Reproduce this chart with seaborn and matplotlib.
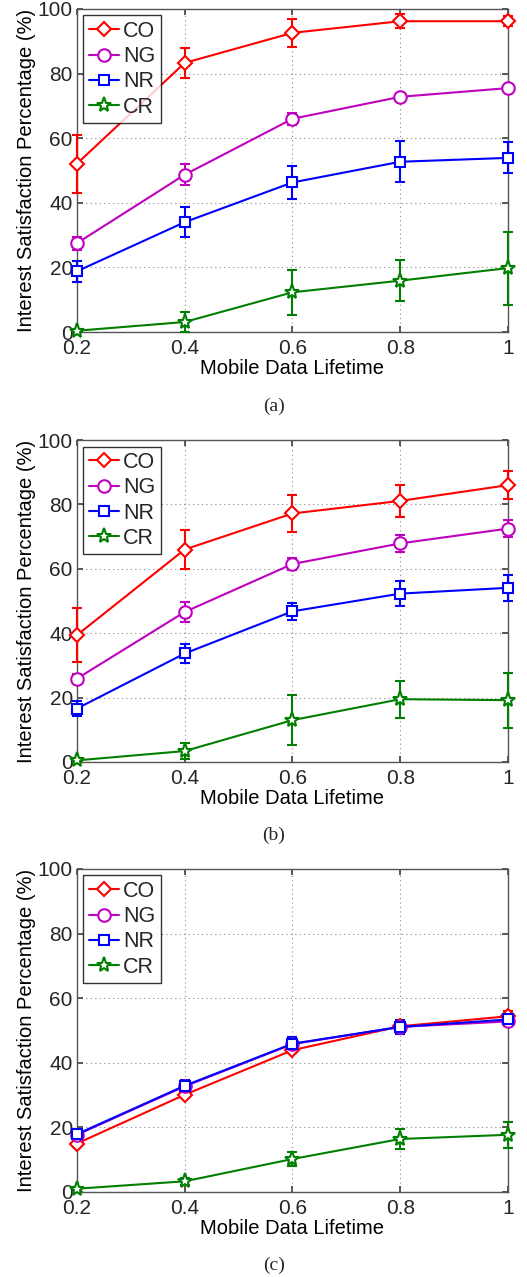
import matplotlib
matplotlib.use("Agg")
import matplotlib.pyplot as plt
import pandas as pd
import seaborn as sns

# lifetime values on the x axis
lifetime = [0.2, 0.4, 0.6, 0.8, 1.0]
methods = ["CO", "NG", "NR", "CR"]

# (a)
a_co = [52.1, 83.3, 92.6, 96.2, 96.2]
a_co_err = [9.0, 4.6, 4.4, 2.2, 1.5]
a_ng = [27.5, 48.7, 66.0, 72.8, 75.5]
a_ng_err = [2.0, 3.3, 1.8, 1.0, 1.0]
a_nr = [18.8, 34.0, 46.3, 52.7, 53.9]
a_nr_err = [3.2, 4.7, 5.0, 6.3, 4.8]
a_cr = [0.4, 3.1, 12.3, 15.9, 19.8]
a_cr_err = [0.5, 3.0, 7.0, 6.3, 11.3]

# (b)
b_co = [39.4, 66.0, 77.2, 81.1, 86.0]
b_co_err = [8.3, 6.1, 5.7, 4.9, 4.4]
b_ng = [25.9, 46.6, 61.5, 67.9, 72.5]
b_ng_err = [1.5, 3.2, 2.0, 2.6, 2.7]
b_nr = [16.6, 33.7, 46.8, 52.3, 54.1]
b_nr_err = [2.2, 3.0, 2.7, 3.9, 4.0]
b_cr = [0.5, 3.4, 13.0, 19.5, 19.2]
b_cr_err = [0.5, 2.4, 7.8, 5.8, 8.5]

# (c)
c_co = [15.0, 30.1, 43.9, 51.3, 54.4]
c_co_err = [1.0, 1.0, 1.0, 1.5, 1.5]
c_ng = [17.7, 32.7, 45.8, 51.1, 52.8]
c_ng_err = [1.2, 1.5, 1.5, 1.8, 1.5]
c_nr = [17.9, 32.9, 45.9, 51.1, 53.4]
c_nr_err = [1.5, 1.8, 2.0, 2.2, 1.8]
c_cr = [1.0, 3.3, 10.2, 16.4, 17.7]
c_cr_err = [0.5, 1.0, 2.3, 3.1, 4.1]

panels = [
    ("(a)", [a_co, a_ng, a_nr, a_cr], [a_co_err, a_ng_err, a_nr_err, a_cr_err]),
    ("(b)", [b_co, b_ng, b_nr, b_cr], [b_co_err, b_ng_err, b_nr_err, b_cr_err]),
    ("(c)", [c_co, c_ng, c_nr, c_cr], [c_co_err, c_ng_err, c_nr_err, c_cr_err]),
]

colors = {"CO": "#ff0000", "NG": "#bf00bf", "NR": "#0000ff", "CR": "#007f00"}
markers = {"CO": "D", "NG": "o", "NR": "s", "CR": "*"}
msizes = {"CO": 7, "NG": 9, "NR": 7, "CR": 11}

sns.set_theme(style="white")
plt.rcParams["font.family"] = ["Liberation Sans", "DejaVu Sans"]

fig = plt.figure(figsize=(5.27, 12.77), dpi=100)
# axes boxes [left, bottom, width, height] and caption y positions
boxes = [[0.146, 0.740, 0.818, 0.253],
         [0.146, 0.4033, 0.818, 0.2521],
         [0.146, 0.0666, 0.818, 0.2529]]
caption_y = [0.682, 0.346, 0.0094]

for (cap, vals, errs), box, cy in zip(panels, boxes, caption_y):
    ax = fig.add_axes(box)
    rows = []
    for m, v in zip(methods, vals):
        for x, y in zip(lifetime, v):
            rows.append({"lifetime": x, "value": y, "method": m})
    df = pd.DataFrame(rows)

    for m, v, e in zip(methods, vals, errs):
        eb = ax.errorbar(lifetime, v, yerr=e, fmt="none", ecolor=colors[m],
                         elinewidth=1.5, capsize=3.5, capthick=1.5, zorder=3)
        for art in eb.lines[1] + eb.lines[2]:
            art.set_clip_on(False)
    sns.lineplot(data=df, x="lifetime", y="value", hue="method", style="method",
                 palette=colors, markers=markers, dashes=False, ax=ax,
                 linewidth=1.5, legend=False, zorder=4)
    for line, m in zip(ax.get_lines()[-4:], methods):
        line.set_markerfacecolor("white")
        line.set_markeredgecolor(colors[m])
        line.set_markeredgewidth(1.5)
        line.set_markersize(msizes[m])
        line.set_clip_on(False)

    ax.set_xlim(0.2, 1.0)
    ax.set_ylim(0, 100)
    ax.set_xticks(lifetime)
    ax.set_xticklabels(["0.2", "0.4", "0.6", "0.8", "1"])
    ax.set_yticks([0, 20, 40, 60, 80, 100])
    ax.grid(True, linestyle=(0, (1, 3)), color="#888888", linewidth=0.8)
    ax.tick_params(direction="in", length=4, color="#444444", labelsize=15,
                   pad=3, top=True, right=True, bottom=True, left=True)
    ax.tick_params(axis="x", pad=5)
    for s in ax.spines.values():
        s.set_color("#555555")
        s.set_linewidth(1.0)
    ax.set_xlabel("Mobile Data Lifetime", fontsize=14.5, labelpad=1, color="black")
    ax.set_ylabel("Interest Satisfaction Percentage (%)", fontsize=14.5,
                  labelpad=1, color="black")

    handles = [plt.Line2D([], [], color=colors[m], marker=markers[m],
                          markersize=msizes[m], markerfacecolor="white",
                          markeredgewidth=1.5, linewidth=1.5) for m in methods]
    leg = ax.legend(handles, methods, loc="upper left", fontsize=15.5,
                    frameon=True, fancybox=False, borderaxespad=0.3,
                    handlelength=1.4, handletextpad=0.2, labelspacing=0.2,
                    borderpad=0.25)
    leg.get_frame().set_edgecolor("black")
    leg.get_frame().set_linewidth(1.0)

    fig.text(0.5 + 0.02, cy, cap, ha="center", va="center", fontsize=14,
             family=["Liberation Serif", "DejaVu Serif"])

fig.savefig("out.png", dpi=100)
